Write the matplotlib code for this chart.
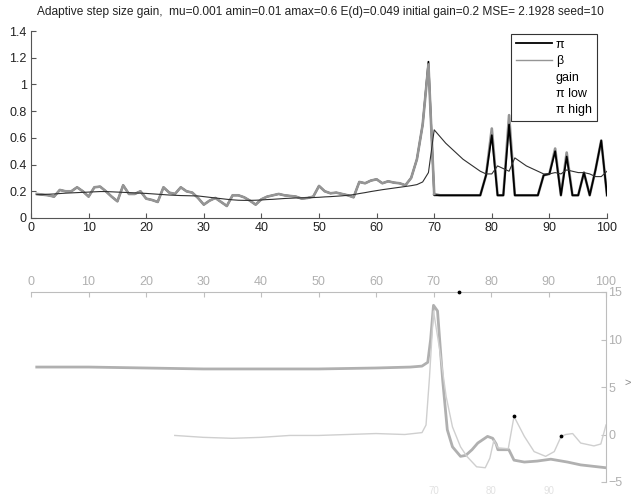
import numpy as np
import matplotlib
matplotlib.use("Agg")
import matplotlib.pyplot as plt
from matplotlib.lines import Line2D
from matplotlib.ticker import FormatStrFormatter

plt.rcParams['font.family'] = ['Liberation Sans', 'DejaVu Sans']

# ---------------- data: top chart ----------------
steps = np.arange(1, 101)

pi_vals = [0.18, 0.175, 0.17, 0.16, 0.21, 0.20, 0.20, 0.23, 0.20, 0.16,
           0.23, 0.235, 0.20, 0.16, 0.125, 0.245, 0.18, 0.18, 0.20, 0.145,
           0.135, 0.12, 0.23, 0.19, 0.18, 0.23, 0.20, 0.19, 0.15, 0.10,
           0.13, 0.15, 0.12, 0.09, 0.17, 0.17, 0.155, 0.13, 0.10, 0.14,
           0.16, 0.17, 0.18, 0.17, 0.165, 0.16, 0.145, 0.15, 0.16, 0.24,
           0.20, 0.185, 0.19, 0.18, 0.17, 0.155, 0.27, 0.26, 0.28, 0.29,
           0.26, 0.275, 0.265, 0.26, 0.245, 0.30, 0.44, 0.70, 1.17, 0.17,
           0.17, 0.17, 0.17, 0.17, 0.17, 0.17, 0.17, 0.17, 0.32, 0.62,
           0.17, 0.17, 0.70, 0.17, 0.17, 0.17, 0.17, 0.17, 0.32, 0.33,
           0.50, 0.17, 0.46, 0.17, 0.17, 0.34, 0.17, 0.36, 0.58, 0.17]

beta_vals = [0.18, 0.175, 0.17, 0.16, 0.21, 0.20, 0.20, 0.23, 0.20, 0.16,
             0.23, 0.235, 0.20, 0.16, 0.125, 0.245, 0.18, 0.18, 0.20, 0.145,
             0.135, 0.12, 0.23, 0.19, 0.18, 0.23, 0.20, 0.19, 0.15, 0.10,
             0.13, 0.15, 0.12, 0.09, 0.17, 0.17, 0.155, 0.13, 0.10, 0.14,
             0.16, 0.17, 0.18, 0.17, 0.165, 0.16, 0.145, 0.15, 0.16, 0.24,
             0.20, 0.185, 0.19, 0.18, 0.17, 0.155, 0.27, 0.26, 0.28, 0.29,
             0.26, 0.275, 0.265, 0.26, 0.245, 0.30, 0.44, 0.70, 1.15, 0.18,
             0.17, 0.17, 0.17, 0.17, 0.17, 0.17, 0.17, 0.17, 0.32, 0.67,
             0.17, 0.17, 0.77, 0.17, 0.17, 0.17, 0.17, 0.17, 0.32, 0.33,
             0.52, 0.17, 0.49, 0.17, 0.17, 0.34, 0.17, 0.36, 0.58, 0.17]

gain_vals = [0.175, 0.175, 0.178, 0.18, 0.183, 0.186, 0.188, 0.19, 0.192, 0.194,
             0.196, 0.198, 0.198, 0.196, 0.194, 0.192, 0.19, 0.188, 0.186, 0.184,
             0.181, 0.178, 0.175, 0.172, 0.17, 0.168, 0.167, 0.166, 0.165, 0.16,
             0.155, 0.15, 0.145, 0.14, 0.136, 0.133, 0.132, 0.132, 0.133, 0.135,
             0.138, 0.14, 0.143, 0.146, 0.148, 0.15, 0.151, 0.152, 0.153, 0.155,
             0.158, 0.16, 0.163, 0.166, 0.17, 0.175, 0.183, 0.19, 0.198, 0.205,
             0.212, 0.218, 0.224, 0.23, 0.236, 0.242, 0.25, 0.27, 0.34, 0.66,
             0.61, 0.56, 0.52, 0.48, 0.44, 0.41, 0.38, 0.35, 0.33, 0.33,
             0.39, 0.37, 0.35, 0.45, 0.42, 0.39, 0.37, 0.35, 0.33, 0.33,
             0.34, 0.33, 0.36, 0.35, 0.34, 0.34, 0.33, 0.31, 0.31, 0.35]

legend_labels = ['π', 'β', 'gain', 'π low', 'π high']
title_text = ('Adaptive step size gain,  mu=0.001 amin=0.01 amax=0.6 E(d)=0.049 '
              'initial gain=0.2 MSE= 2.1928 seed=10')

# ---------------- data: bottom chart ----------------
curveA_x = [1, 10, 20, 30, 40, 50, 60, 66, 68, 69, 69.5, 70, 70.7, 71.6, 72.4,
            73.3, 74.7, 75.6, 76.7, 77.7, 79.4, 80.3, 80.9, 81.2, 83.1, 84,
            85.8, 88, 90.4, 93.3, 95.6, 100]
curveA_y = [7.1, 7.1, 7.0, 6.9, 6.9, 6.9, 7.0, 7.1, 7.2, 7.6, 10.0, 13.6, 13.0,
            5.7, 0.5, -1.3, -2.3, -2.2, -1.6, -0.9, -0.2, -0.4, -1.0, -1.6,
            -1.6, -2.7, -2.9, -2.8, -2.6, -2.9, -3.2, -3.5]

curveB_x = [25, 30, 35, 40, 45, 50, 55, 60, 65, 68, 68.7, 69.3, 70, 71, 72.2,
            73.3, 74.7, 75.8, 77.5, 79, 79.8, 80.5, 81.2, 83, 84, 85.8, 87.5,
            89.5, 91, 92.2, 93, 94.2, 95.6, 97.9, 99.1, 100]
curveB_y = [-0.1, -0.3, -0.4, -0.3, -0.1, -0.1, 0.0, 0.1, 0.0, 0.2, 1.0, 6.0,
            13.0, 9.2, 4.0, 0.8, -1.3, -2.3, -3.4, -3.5, -2.5, -0.6, -1.4, -1.5,
            1.9, -0.2, -1.8, -2.3, -1.8, -0.2, 0.0, 0.1, -0.9, -1.2, -1.0, 1.0]

dots_x = [74.5, 84, 92.2]
dots_y = [15, 1.9, -0.2]

# ---------------- figure ----------------
W, H = 641, 497
fig = plt.figure(figsize=(W / 100, H / 100), dpi=100)

def fx(px):
    return px / W

def fy(py):
    return 1 - py / H

# top axes
ax1 = fig.add_axes([fx(31), fy(218), fx(607) - fx(31), fy(31) - fy(218)])
pi_arr = np.array(pi_vals)
beta_arr = np.array(beta_vals)
ax1.plot(steps, pi_arr, color='black', lw=1.3, zorder=2)
ax1.plot(steps[:70], beta_arr[:70], color='#959595', lw=1.9, zorder=3)
ax1.plot(steps[69:], beta_arr[69:], color='#959595', lw=1.9, zorder=1)
ax1.plot(steps, gain_vals, color='#303030', lw=0.8, zorder=4)

ax1.set_xlim(0, 100)
ax1.set_ylim(0, 1.4)
ax1.set_xticks(np.arange(0, 101, 10))
ax1.set_yticks(np.arange(0, 1.41, 0.2))
ax1.yaxis.set_major_formatter(FormatStrFormatter('%g'))
ax1.spines['top'].set_visible(False)
ax1.spines['right'].set_visible(False)
for s in ('left', 'bottom'):
    ax1.spines[s].set_color('#555555')
    ax1.spines[s].set_linewidth(0.8)
ax1.tick_params(direction='in', length=3.5, width=0.8, labelsize=9,
                colors='#555555', labelcolor='#222222', pad=3)

handles = [Line2D([], [], color='black', lw=1.3),
           Line2D([], [], color='#959595', lw=1.0),
           Line2D([], [], color='none'),
           Line2D([], [], color='none'),
           Line2D([], [], color='none')]
leg = ax1.legend(handles, legend_labels, loc='upper left',
                 bbox_to_anchor=(0.833, 0.985), fontsize=9, frameon=True,
                 fancybox=False, framealpha=1, edgecolor='#333333',
                 handlelength=2.9, handletextpad=0.3, labelspacing=0.35,
                 borderpad=0.4, borderaxespad=0)
leg.get_frame().set_linewidth(0.8)

fig.text(0.5, fy(12), title_text, ha='center', va='center', fontsize=8.6,
         color='#222222')

# bottom axes
ax2 = fig.add_axes([fx(31), fy(482), fx(606) - fx(31), fy(292) - fy(482)])
ax2.plot(curveA_x, curveA_y, color='#b0b0b0', lw=2.0)
ax2.plot(curveB_x, curveB_y, color='#cfcfcf', lw=1.0)
ax2.scatter(dots_x, dots_y, s=3, color='black', zorder=5, clip_on=False)
ax2.set_xlim(0, 100)
ax2.set_ylim(-5, 15)
ax2.set_xticks(np.arange(0, 101, 10))
ax2.set_yticks(np.arange(-5, 16, 5))
ax2.xaxis.tick_top()
ax2.yaxis.tick_right()
ax2.spines['left'].set_visible(False)
ax2.spines['bottom'].set_visible(False)
for s in ('top', 'right'):
    ax2.spines[s].set_color('#bdbdbd')
    ax2.spines[s].set_linewidth(0.8)
ax2.tick_params(direction='in', length=3.5, width=0.8, labelsize=9,
                colors='#c0c0c0', labelcolor='#b0b0b0', pad=3)
ax2.tick_params(axis='y', pad=1.5)

sec = ax2.secondary_xaxis('bottom')
sec.set_xticks([70, 80, 90])
sec.spines['bottom'].set_visible(False)
sec.tick_params(length=0, labelsize=7, labelcolor='#e2e2e2', pad=3)

fig.text(fx(628), fy(383), '>', ha='center', va='center', fontsize=8,
         color='#888888')

fig.savefig('out.png', dpi=100)
